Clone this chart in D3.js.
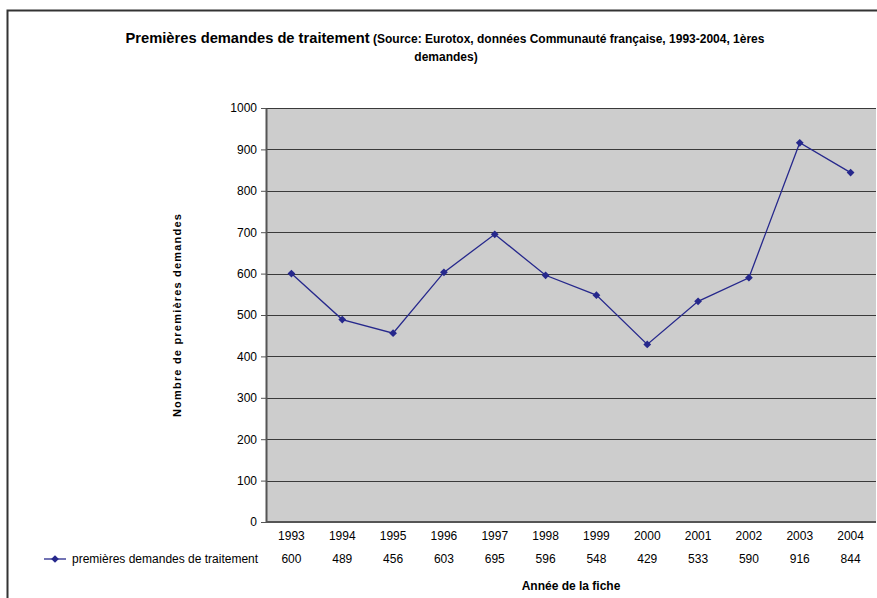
<!DOCTYPE html>
<html>
<head>
<meta charset="utf-8">
<script src="https://cdn.jsdelivr.net/npm/d3@7"></script>
<style>
  body { margin: 0; background: #fff; }
  text { font-family: "Liberation Sans", Arial, sans-serif; fill: #000; }
</style>
</head>
<body>
<svg id="chart" width="877" height="598"></svg>
<script>
// Chart data
const years = ["1993", "1994", "1995", "1996", "1997", "1998", "1999", "2000", "2001", "2002", "2003", "2004"];
const demandes = [600, 489, 456, 603, 695, 596, 548, 429, 533, 590, 916, 844];
const yTicks = [0, 100, 200, 300, 400, 500, 600, 700, 800, 900, 1000];
const seriesName = "premières demandes de traitement";

const svg = d3.select("#chart");
const margin = { top: 108, right: 1, bottom: 76, left: 266 };
const width = 877 - margin.left - margin.right;
const height = 598 - margin.top - margin.bottom;
const lineColor = "#26288c";

// Outer chart frame (only top and left edges are visible in the crop)
svg.append("path")
  .attr("d", "M7.5,598 V10.5 H877")
  .attr("fill", "none")
  .attr("stroke", "#333")
  .attr("stroke-width", 2);

// Title
const title = svg.append("text")
  .attr("x", 445)
  .attr("y", 43)
  .attr("text-anchor", "middle")
  .style("font-weight", "bold");
title.append("tspan").style("font-size", "14.7px").text("Premières demandes de traitement");
title.append("tspan").style("font-size", "12px").text(" (Source: Eurotox, données Communauté française, 1993-2004, 1ères");
svg.append("text")
  .attr("x", 446)
  .attr("y", 61)
  .attr("text-anchor", "middle")
  .style("font-weight", "bold")
  .style("font-size", "12px")
  .text("demandes)");

const g = svg.append("g")
  .attr("transform", `translate(${margin.left},${margin.top})`);

const x = d3.scaleBand().domain(years).range([0, width]);
const y = d3.scaleLinear().domain([0, 1000]).range([height, 0]);

// Plot background
g.append("rect")
  .attr("width", width)
  .attr("height", height)
  .attr("fill", "#cdcdcd");

// Gridlines
g.append("g")
  .selectAll("line")
  .data(yTicks.filter(d => d > 0))
  .join("line")
  .attr("x1", 0)
  .attr("x2", width)
  .attr("y1", d => Math.round(y(d)) + 0.5)
  .attr("y2", d => Math.round(y(d)) + 0.5)
  .attr("stroke", "#3a3a3a")
  .attr("stroke-width", 1);

// Y axis
const yAxis = g.append("g")
  .call(d3.axisLeft(y).tickValues(yTicks).tickFormat(d3.format("d"))
    .tickSize(5).tickPadding(4).tickSizeOuter(0));
yAxis.select(".domain").attr("stroke", "#555").attr("stroke-width", 2);
yAxis.selectAll(".tick line").attr("stroke", "#555");
yAxis.selectAll(".tick text")
  .style("font-size", "12px")
  .style("font-family", "'Liberation Sans', Arial, sans-serif");

// X axis line at 0
g.append("line")
  .attr("x1", 0)
  .attr("x2", width)
  .attr("y1", height)
  .attr("y2", height)
  .attr("stroke", "#555")
  .attr("stroke-width", 2);

// Data line
const line = d3.line()
  .x((d, i) => x(years[i]) + x.bandwidth() / 2)
  .y(d => y(d));

g.append("path")
  .datum(demandes)
  .attr("d", line)
  .attr("fill", "none")
  .attr("stroke", lineColor)
  .attr("stroke-width", 1.3);

// Square diamond markers (square rotated 45 degrees)
const diamond = d3.symbol().type(d3.symbolSquare).size(30);
g.append("g")
  .selectAll("path")
  .data(demandes)
  .join("path")
  .attr("d", diamond)
  .attr("transform", (d, i) => `translate(${x(years[i]) + x.bandwidth() / 2},${y(d)}) rotate(45)`)
  .attr("fill", lineColor);

// Data table: years row
g.append("g")
  .selectAll("text")
  .data(years)
  .join("text")
  .attr("x", d => x(d) + x.bandwidth() / 2)
  .attr("y", height + 18)
  .attr("text-anchor", "middle")
  .style("font-size", "12px")
  .text(d => d);

// Data table: values row
g.append("g")
  .selectAll("text")
  .data(demandes)
  .join("text")
  .attr("x", (d, i) => x(years[i]) + x.bandwidth() / 2)
  .attr("y", height + 41)
  .attr("text-anchor", "middle")
  .style("font-size", "12px")
  .text(d => d);

// Legend key in the table
const legendY = margin.top + height + 37;
svg.append("line")
  .attr("x1", 44)
  .attr("x2", 66)
  .attr("y1", legendY)
  .attr("y2", legendY)
  .attr("stroke", lineColor)
  .attr("stroke-width", 1.3);
svg.append("path")
  .attr("d", diamond)
  .attr("transform", `translate(55,${legendY}) rotate(45)`)
  .attr("fill", lineColor);
svg.append("text")
  .attr("x", 72)
  .attr("y", legendY + 4)
  .style("font-size", "12px")
  .text(seriesName);

// Axis titles
svg.append("text")
  .attr("x", margin.left + width / 2)
  .attr("y", 590)
  .attr("text-anchor", "middle")
  .style("font-weight", "bold")
  .style("font-size", "12px")
  .text("Année de la fiche");

svg.append("text")
  .attr("transform", `translate(181,${margin.top + height / 2}) rotate(-90)`)
  .attr("text-anchor", "middle")
  .style("font-weight", "bold")
  .style("font-size", "11px")
  .style("letter-spacing", "1.2px")
  .text("Nombre de premières demandes");
</script>
</body>
</html>
